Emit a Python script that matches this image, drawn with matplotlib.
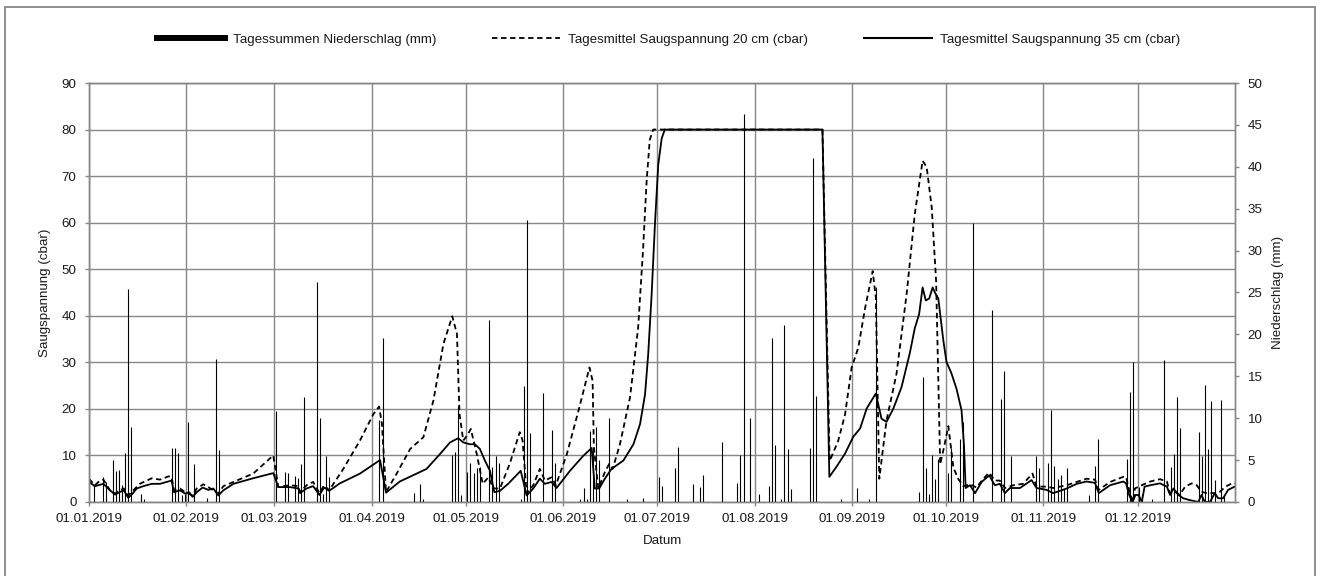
#!/usr/bin/env python3
"""
Saugspannung (20 cm / 35 cm) und Tagesniederschlag 2019.
Combo chart: lines on the left axis (cbar), precipitation bars on a twin axis (mm).
"""

import numpy as np
import pandas as pd
import matplotlib
matplotlib.use("Agg")
import matplotlib.pyplot as plt
from matplotlib.lines import Line2D
from matplotlib.patches import Rectangle

plt.rcParams["font.family"] = ["Liberation Sans", "DejaVu Sans"]
plt.rcParams["font.size"] = 9.6

START = pd.Timestamp("2019-01-01")
MONTHS = pd.date_range(START, periods=12, freq="MS")

GRID = "#878787"
TEXT = "#1a1a1a"

# daily precipitation sums: day offset from 01.01.2019, mm
PRECIP_DAY = [1, 4, 5, 7, 8, 9, 10, 11, 12, 13, 16, 17, 26, 27, 28, 29, 30, 31,
              33, 37, 40, 41, 59, 62, 63, 65, 66, 67, 68, 72, 73, 74, 75, 76,
              92, 93, 103, 105, 106, 115, 116, 117, 118, 120, 121, 122, 123, 124,
              127, 128, 129, 130, 137, 138, 139, 140, 144, 147, 148, 156, 157,
              158, 159, 160, 161, 162, 165, 171, 176, 181, 182, 186, 187, 192,
              194, 195, 201, 206, 207, 208, 210, 213, 216, 217, 218, 220, 221,
              222, 223, 229, 230, 231, 239, 244, 248, 250, 264, 265, 266, 267,
              268, 269, 270, 273, 274, 277, 278, 281, 287, 290, 291, 293, 301,
              302, 305, 306, 307, 308, 309, 310, 311, 318, 320, 321, 330, 331,
              332, 334, 335, 338, 342, 344, 345, 346, 347, 353, 354, 355, 356,
              357, 358, 360, 361]
PRECIP_MM = [2.0, 3.0, 2.4, 5.0, 3.7, 3.8, 2.0, 5.9, 25.4, 8.9, 1.0, 0.4, 6.4,
             6.5, 5.9, 0.8, 1.0, 9.5, 4.5, 0.5, 17.1, 6.2, 10.8, 3.6, 3.4, 3.1,
             2.9, 4.5, 12.5, 26.2, 10.0, 1.0, 5.5, 3.0, 9.8, 19.6, 1.1, 2.1, 0.3,
             5.6, 6.0, 11.5, 0.8, 3.6, 4.6, 3.4, 4.0, 4.2, 21.7, 4.2, 5.5, 4.6,
             0.4, 13.8, 33.7, 8.2, 13.0, 8.6, 4.7, 0.4, 1.7, 0.3, 8.5, 6.5, 9.0,
             5.0, 10.0, 0.4, 0.5, 3.0, 1.9, 4.1, 6.6, 2.1, 1.8, 3.2, 7.1, 2.3,
             5.6, 46.3, 10.0, 1.0, 1.9, 19.6, 6.8, 0.4, 21.1, 6.3, 1.6, 6.4,
             41.1, 12.7, 0.3, 1.7, 0.3, 25.6, 1.2, 14.9, 4.0, 0.9, 5.6, 2.7,
             5.1, 3.4, 6.4, 7.5, 9.5, 33.3, 22.9, 12.3, 15.6, 5.5, 5.5, 4.0,
             4.7, 11.0, 4.3, 2.8, 3.2, 1.6, 4.0, 0.8, 4.3, 7.5, 5.1, 13.1, 16.7,
             1.8, 1.0, 0.3, 16.9, 4.2, 5.7, 12.5, 8.8, 8.3, 5.5, 14.0, 6.3,
             12.1, 2.6, 12.2, 0.8]

# daily mean suction 20 cm: day offset, cbar
SOIL20_DAY = [0, 1.9, 3.5, 4.6, 6.7, 8.3, 9.7, 11.1, 12.5, 14.1, 16.2, 20, 22.6,
              25.3, 26.3, 27.1, 29, 30.6, 33, 34.3, 36.4, 38, 41.2, 42.8, 46,
              52.3, 58.7, 60.3, 64, 66.7, 67.2, 69.3, 71.4, 73.4, 74.9, 76.5, 81,
              86.3, 90.6, 92.4, 93.3, 94.6, 98, 102.3, 106.5, 109.7, 112.9,
              115.7, 117.2, 118.0, 119.2, 120.5, 121.6, 123.5, 125.4, 127.2,
              128.8, 130.9, 134, 137.2, 138.1, 139.4, 141.5, 143.6, 145.2, 147.3,
              148.7, 152.2, 155.9, 159.4, 160.4, 160.8, 162.2, 164.3, 165.7,
              166.8, 169.1, 172.3, 174.9, 176.5, 177.6, 178.6, 179.7, 233.6,
              235.9, 238.6, 240.8, 242.9, 245, 247.2, 249.6, 250.6, 251.7, 254,
              257.2, 260.4, 263, 265.5, 266.8, 268.4, 269.8, 271.1, 272.3, 273.7,
              275.3, 276.9, 278.5, 280.6, 282.7, 284.7, 286.7, 288.5, 290.1,
              291.7, 294.4, 297.5, 300.5, 301.8, 305, 307.1, 311.4, 314.6, 317.7,
              320.4, 321.6, 325.2, 329.4, 330.3, 331.5, 332.6, 333.1, 335.3, 338,
              341.1, 343.3, 344.3, 345.9, 347.4, 349.1, 351.2, 352.8, 354.3, 356,
              358.6, 360.2, 362, 364, 365]
SOIL20_CBAR = [5.0, 3.6, 4.6, 4.8, 2.5, 1.8, 2.5, 2.9, 1.4, 2.5, 3.9, 5.1, 4.8,
               5.5, 5.4, 2.5, 2.9, 2.1, 1.4, 2.9, 3.8, 3.2, 1.8, 3.4, 4.3, 6.1,
               10.0, 3.2, 3.6, 3.4, 2.1, 3.6, 4.3, 1.9, 3.6, 2.5, 7.1, 13.2, 18.9,
               20.5, 16.8, 2.1, 6.1, 11.4, 13.9, 21.8, 34.0, 39.9, 36.1, 19.0,
               13.2, 14.3, 15.7, 10.3, 3.9, 5.3, 2.9, 2.9, 8.2, 15.0, 13.2, 1.9,
               3.6, 7.1, 4.6, 5.3, 3.6, 10.3, 19.6, 28.9, 26.0, 11.8, 2.9, 6.4,
               8.2, 7.1, 12.4, 22.4, 37.4, 54.6, 68.9, 77.8, 80, 80, 8.8, 13.1,
               18.8, 28.9, 33.1, 41.7, 49.6, 43.9, 5.0, 17.5, 27.6, 44.6, 61.8,
               73.3, 71.9, 63.3, 47.5, 8.1, 11.7, 16.3, 7.4, 4.9, 3.4, 3.8, 3.1,
               4.9, 6.3, 4.6, 4.6, 3.0, 3.6, 3.9, 6.1, 3.3, 3.3, 3.0, 3.6, 4.3,
               5.0, 4.8, 2.6, 4.3, 5.4, 5.4, 1.9, 0.0, 2.9, 3.6, 4.4, 4.9, 4.4,
               1.9, 2.2, 1.5, 3.3, 4.0, 3.6, 2.2, 1.9, 1.9, 2.2, 3.3, 4.0, 4.0]

# daily mean suction 35 cm: day offset, cbar
SOIL35_DAY = [0, 1.9, 4.6, 6.7, 8.3, 9.7, 11.1, 12.5, 13.9, 15.2, 17.3, 20, 22.6,
              25.3, 26.3, 27.1, 29, 30.6, 31.9, 33, 34.3, 36.2, 38, 39.6, 41.2,
              42.8, 46, 52.3, 58.7, 60.3, 64, 66.7, 67.2, 69.3, 71.4, 73.4, 74.9,
              76.5, 79.9, 86.3, 92.7, 94.6, 99.0, 104.4, 107.5, 111.8, 115,
              117.6, 119.2, 121.3, 122.9, 124.5, 126.1, 127.7, 129.1, 130.9,
              133.5, 137.5, 139.4, 141.5, 143.6, 145.2, 147.3, 148.9, 153.2,
              157.4, 160.1, 161.1, 162.5, 164.3, 166.4, 170.2, 173.4, 175.5,
              177.1, 178.1, 179.2, 180.3, 181.3, 182.4, 183.4, 233.6, 235.8,
              238.1, 240.8, 243.4, 245.6, 247.7, 250.6, 252.4, 254, 256.2, 258.8,
              261.4, 263, 264.4, 265.5, 266.5, 267.6, 268.7, 269.4, 270.5, 272.1,
              273.1, 274.7, 276.3, 277.9, 278.7, 279.2, 280.6, 282.2, 284.3,
              286.7, 288.5, 290.1, 291.7, 293.3, 296.5, 300.2, 301.8, 305, 307.1,
              311.4, 314.6, 317.7, 320.4, 321.6, 325.2, 329.4, 330.3, 331.3,
              332.3, 333.3, 334.3, 335.3, 336.2, 338, 341.1, 343.3, 344.3, 345.4,
              347, 348.5, 350.6, 353.3, 354.3, 355.4, 357, 358.6, 359.6, 361.2,
              362.8, 364.9]
SOIL35_CBAR = [4.3, 3.4, 3.9, 2.5, 1.6, 2.1, 2.5, 0.9, 1.8, 2.9, 3.4, 3.9, 3.9,
               4.4, 4.6, 2.1, 2.5, 1.8, 2.1, 1.1, 2.1, 3.1, 2.6, 2.9, 1.4, 2.5,
               3.9, 5.1, 6.2, 3.2, 3.2, 2.9, 1.9, 2.9, 3.4, 1.5, 3.1, 2.4, 4.0,
               6.1, 9.0, 2.0, 4.4, 6.1, 7.1, 10.3, 12.8, 13.7, 12.8, 12.4, 12.4,
               11.4, 8.9, 6.7, 2.1, 2.4, 3.9, 6.7, 1.4, 2.9, 5.0, 3.9, 4.3, 3.0,
               6.7, 9.9, 11.6, 2.9, 2.9, 5.0, 7.1, 8.9, 12.4, 16.7, 23.1, 31.7,
               44.6, 60.3, 72.4, 78.1, 80, 80, 5.4, 7.6, 10.4, 14.0, 15.8, 20.1,
               23.3, 17.9, 17.2, 20.1, 24.7, 31.9, 37.3, 40.4, 46.1, 43.3, 43.7,
               46.1, 45.0, 43.7, 34.7, 30.1, 27.6, 24.3, 19.7, 11.9, 3.0, 3.6,
               1.9, 4.3, 5.7, 3.6, 3.9, 1.9, 3.0, 3.0, 4.7, 3.0, 2.6, 1.9, 2.9,
               3.9, 4.4, 4.1, 1.9, 3.6, 4.4, 4.0, 1.5, 0.0, 1.5, 1.5, 0.0, 3.3,
               3.6, 4.0, 3.3, 1.5, 2.9, 1.5, 0.8, 0.4, 0.0, 1.5, 0.0, 0.0, 1.9,
               0.8, 0.8, 2.6, 3.3]

LABEL_RAIN = "Tagessummen Niederschlag (mm)"
LABEL_20 = "Tagesmittel Saugspannung 20 cm (cbar)"
LABEL_35 = "Tagesmittel Saugspannung 35 cm (cbar)"


def main():
    fig = plt.figure(figsize=(13.24, 5.76), dpi=100)
    ax = fig.add_axes([0.0672, 0.1285, 0.8656, 0.7274])
    ax2 = ax.twinx()

    # lines (left axis)
    ax.plot(SOIL20_DAY, SOIL20_CBAR, color="black", lw=1.3, ls=(0, (3, 2)))
    ax.plot(SOIL35_DAY, SOIL35_CBAR, color="black", lw=1.3)

    # precipitation (right axis) - columns are only ~1 px wide, so vlines
    ax2.vlines(np.array(PRECIP_DAY) + 0.5, 0, PRECIP_MM,
               color="black", lw=0.8)

    month_pos = (MONTHS - START).days
    ax.set_xlim(0, 365)
    ax.set_xticks(month_pos)
    ax.set_xticklabels(MONTHS.strftime("%d.%m.%Y"))
    ax.set_ylim(0, 90)
    ax.set_yticks(np.arange(0, 91, 10))
    ax2.set_ylim(0, 50)
    ax2.set_yticks(np.arange(0, 51, 5))

    ax.grid(True, color=GRID, lw=1.0)
    ax.set_axisbelow(True)
    for a in (ax, ax2):
        for s in a.spines.values():
            s.set_color(GRID)
            s.set_linewidth(1.0)
        a.tick_params(direction="out", length=3, width=1.0, color=GRID,
                      labelcolor=TEXT, labelsize=9.6)
    ax.tick_params(axis="x", pad=5)
    ax.tick_params(axis="y", pad=6)
    ax2.tick_params(axis="y", pad=6)

    ax.set_xlabel("Datum", color=TEXT, fontsize=9.6)
    ax.xaxis.set_label_coords(0.5, -0.078)
    ax.set_ylabel("Saugspannung (cbar)", color=TEXT, fontsize=9.6, va="center")
    ax.yaxis.set_label_coords(-0.0384, 0.5)
    ax2.set_ylabel("Niederschlag (mm)", color=TEXT, fontsize=9.6, va="center")
    ax2.yaxis.set_label_coords(1.0375, 0.5)

    handles = [
        Line2D([], [], color="black", lw=4.3),
        Line2D([], [], color="black", lw=1.3, ls=(0, (3, 2))),
        Line2D([], [], color="black", lw=1.5),
    ]
    fig.legend(handles, [LABEL_RAIN, LABEL_20, LABEL_35], loc="center",
               bbox_to_anchor=(0.505, 0.9306), ncol=3, frameon=False,
               fontsize=9.6, handlelength=5.1, handletextpad=0.6,
               columnspacing=4.2, labelcolor=TEXT)

    # outer chart border
    fig.add_artist(Rectangle((5 / 1324, -0.02), 1310 / 1324, 1.02 - 7 / 576,
                             transform=fig.transFigure, fill=False,
                             edgecolor=GRID, lw=1.3))

    fig.savefig("out.png", dpi=100, facecolor="white")
    plt.close(fig)


if __name__ == "__main__":
    main()
